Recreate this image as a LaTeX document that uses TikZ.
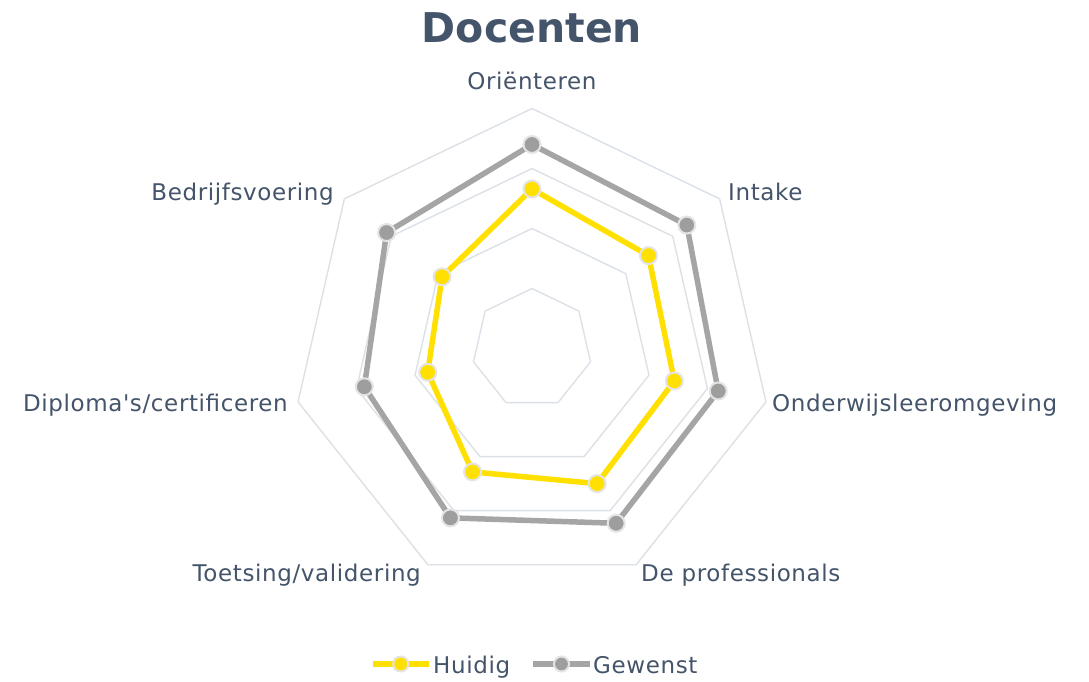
\documentclass[tikz,border=0pt]{standalone}
\usepackage{fontspec}
\setmainfont{DejaVu Sans}[Ligatures=TeXOff]
\newfontfamily\labfont{DejaVu Sans}[Ligatures=TeXOff,LetterSpace=2.7]
\definecolor{yel}{HTML}{FFE000}
\definecolor{grayc}{HTML}{A5A5A5}
\definecolor{graymk}{HTML}{9E9E9E}
\definecolor{markb}{HTML}{E4E4E4}
\definecolor{gridc}{HTML}{DCE1E8}
\definecolor{labc}{HTML}{44546A}
\begin{document}
\begin{tikzpicture}[x=1pt,y=1pt,
  gridline/.style={draw=gridc, line width=1.4pt, line join=round},
  hui/.style={draw=yel, line width=5.5pt, line join=round},
  gew/.style={draw=grayc, line width=5.5pt, line join=round},
  huimark/.style={circle, fill=yel, draw=markb, line width=2pt, minimum size=17pt, inner sep=0pt},
  gewmark/.style={circle, fill=graymk, draw=markb, line width=2pt, minimum size=17pt, inner sep=0pt},
  lab/.style={text=labc, font=\labfont\fontsize{23}{27}\selectfont, inner sep=0pt},
  ttl/.style={text=labc, font=\fontsize{41}{48}\selectfont\bfseries, inner sep=0pt}]
\fill[white] (0,0) rectangle (1089,681);
\useasboundingbox (0,0) rectangle (1089,681);
\node[ttl, anchor=base] (title) at (532,638.3) {Docenten};
\begin{scope}[shift={(532,332.5)}]
  \foreach \r in {60,120,180,240}
    \draw[gridline] (90:\r) \foreach \k in {1,...,6}{ -- ({90-\k*360/7}:\r)} -- cycle;
  \foreach \i/\r in {1/159.5,2/149,3/146,4/150,5/137,6/107,7/115}
    \coordinate (h\i) at ({90-(\i-1)*360/7}:\r);
  \foreach \i/\r in {1/204,2/198,3/191,4/194,5/188,6/172,7/186}
    \coordinate (g\i) at ({90-(\i-1)*360/7}:\r);
\end{scope}
\draw[gew] (g1) -- (g2) -- (g3) -- (g4) -- (g5) -- (g6) -- (g7) -- cycle;
\draw[hui] (h1) -- (h2) -- (h3) -- (h4) -- (h5) -- (h6) -- (h7) -- cycle;
\foreach \i in {1,...,7}{
  \node[gewmark] (gm\i) at (g\i) {};
  \node[huimark] (hm\i) at (h\i) {};
}
% axis labels
\node[lab, anchor=base] (l1) at (532,591) {Oriënteren};
\node[lab, anchor=base west] (l2) at (728,480) {Intake};
\node[lab, anchor=base west] (l3) at (772,269.3) {Onderwijsleeromgeving};
\node[lab, anchor=base west] (l4) at (641,99.3) {De professionals};
\node[lab, anchor=base east] (l5) at (421,99.3) {Toetsing/validering};
\node[lab, anchor=base east] (l6) at (288,269.3) {Diploma's/certificeren};
\node[lab, anchor=base east] (l7) at (334,480.3) {Bedrijfsvoering};
% legend
\coordinate (la) at (372.7,17);
\coordinate (lb) at (429.3,17);
\coordinate (lc) at (533.3,17);
\coordinate (ld) at (590,17);
\draw[hui, line width=6pt] (la) -- (lb);
\draw[gew, line width=6pt] (lc) -- (ld);
\node[huimark, minimum size=15pt] (lm1) at (400.7,17) {};
\node[gewmark, minimum size=15pt] (lm2) at (561.5,17) {};
\node[lab, anchor=base west] (lt1) at (433,7.7) {Huidig};
\node[lab, anchor=base west] (lt2) at (593,7.7) {Gewenst};
\end{tikzpicture}
\end{document}
